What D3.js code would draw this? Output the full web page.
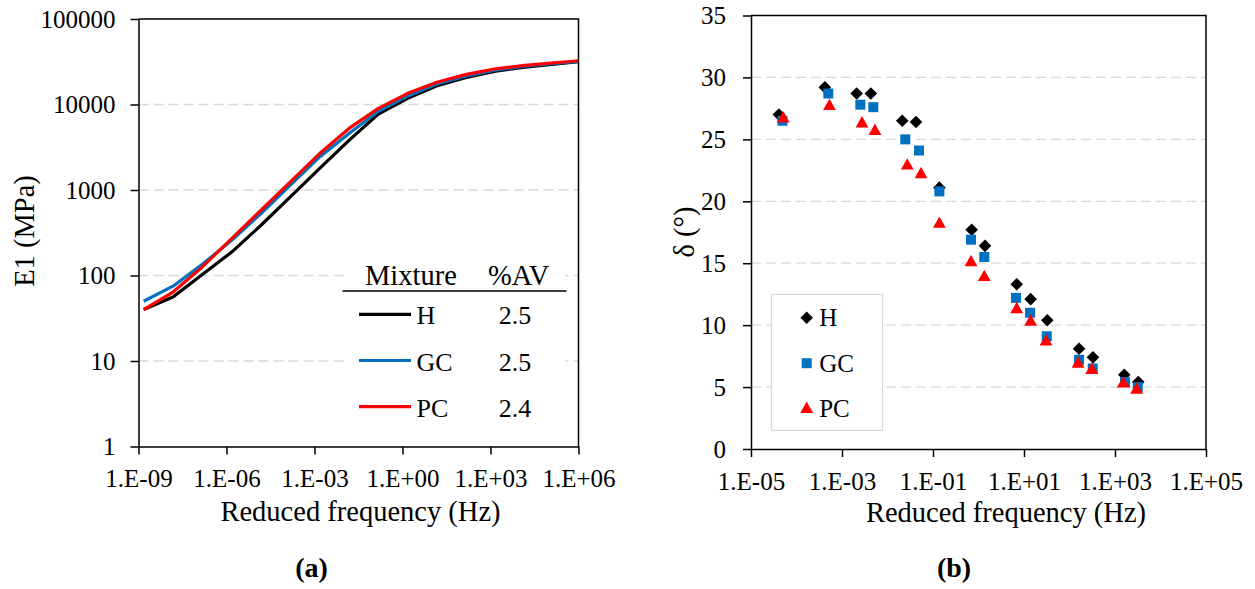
<!DOCTYPE html>
<html>
<head>
<meta charset="utf-8">
<script src="https://cdn.jsdelivr.net/npm/d3@7"></script>
<style>
  html, body { margin: 0; padding: 0; background: #fff; }
  svg { display: block; }
</style>
</head>
<body>
<svg id="chart" width="1255" height="589"></svg>
<script>
// ---- Panel (a): master curves of |E1| vs reduced frequency ----
const freqA = [1.5e-9, 1.5e-8, 1.5e-7, 1.5e-6, 1.5e-5, 1.5e-4, 1.5e-3, 1.5e-2,
               1.5e-1, 1.5, 15, 150, 1500, 15000, 150000, 1e6];
const e1H  = [40, 56, 103, 188, 387, 830, 1790, 3800, 7730, 11800, 16600, 20700, 24600, 27400, 29700, 31600];
const e1GC = [50, 75, 135, 258, 531, 1140, 2440, 4570, 8320, 12600, 17400, 21600, 25400, 28100, 30200, 32000];
const e1PC = [40, 64, 126, 270, 580, 1245, 2670, 5250, 9000, 13500, 18200, 22500, 26200, 28700, 30800, 32500];

const xTicksA = [1e-9, 1e-6, 1e-3, 1e0, 1e3, 1e6];
const xTickLabelsA = ["1.E-09", "1.E-06", "1.E-03", "1.E+00", "1.E+03", "1.E+06"];
const yTicksA = [1, 10, 100, 1000, 10000, 100000];
const yTickLabelsA = ["1", "10", "100", "1000", "10000", "100000"];

const mixtures = ["H", "GC", "PC"];
const airVoids = ["2.5", "2.5", "2.4"];

// ---- Panel (b): phase angle vs reduced frequency ----
const freqH  = [4.1e-5, 4.2e-4, 2.1e-3, 4.3e-3, 0.0211, 0.0423, 0.138, 0.708, 1.39, 6.92, 14.0, 32.5, 162, 328, 1600, 3250];
const deltaH = [27.0, 29.2, 28.7, 28.7, 26.5, 26.4, 21.1, 17.7, 16.4, 13.3, 12.1, 10.4, 8.1, 7.4, 6.0, 5.4];
const freqGC  = [4.9e-5, 5.0e-4, 2.53e-3, 4.88e-3, 0.0246, 0.0492, 0.138, 0.684, 1.34, 6.67, 13.6, 31.6, 162, 324, 1660, 3160];
const deltaGC = [26.5, 28.7, 27.8, 27.6, 25.0, 24.1, 20.8, 16.9, 15.5, 12.2, 11.0, 9.1, 7.2, 6.5, 5.4, 5.0];
const freqPC  = [5.1e-5, 5.3e-4, 2.75e-3, 5.3e-3, 0.0272, 0.0545, 0.138, 0.684, 1.34, 6.92, 14.0, 30.5, 154, 308, 1520, 3000];
const deltaPC = [26.7, 27.7, 26.3, 25.7, 22.9, 22.2, 18.2, 15.1, 13.9, 11.3, 10.3, 8.7, 6.9, 6.4, 5.3, 4.8];

const xTicksB = [1e-5, 1e-3, 1e-1, 1e1, 1e3, 1e5];
const xTickLabelsB = ["1.E-05", "1.E-03", "1.E-01", "1.E+01", "1.E+03", "1.E+05"];
const yTicksB = [0, 5, 10, 15, 20, 25, 30, 35];

const colors = { H: "#000000", GC: "#0070C0", PC: "#FF0000" };
const gridColor = "#d9d9d9";
const serif = '"Liberation Serif", "Times New Roman", serif';

const svg = d3.select("#chart");

// ================= Panel (a) =================
const A = { x0: 138.5, x1: 578.5, y0: 19, y1: 446.5 };
const xA = d3.scaleLog().domain([1e-9, 1e6]).range([A.x0, A.x1]);
const yA = d3.scaleLog().domain([1, 100000]).range([A.y1, A.y0]);

const gA = svg.append("g");

// horizontal dashed gridlines
gA.append("g").selectAll("line")
  .data(yTicksA.slice(1, -1))
  .join("line")
  .attr("x1", A.x0).attr("x2", A.x1)
  .attr("y1", d => yA(d)).attr("y2", d => yA(d))
  .attr("stroke", gridColor).attr("stroke-width", 1.3)
  .attr("stroke-dasharray", "10,5");

// curves
const seriesA = [
  { name: "H", values: e1H },
  { name: "GC", values: e1GC },
  { name: "PC", values: e1PC }
];
const lineA = d3.line().x(d => xA(d[0])).y(d => yA(d[1]));
gA.append("g").selectAll("path")
  .data(seriesA)
  .join("path")
  .attr("d", s => lineA(freqA.map((f, i) => [f, s.values[i]])))
  .attr("fill", "none")
  .attr("stroke", s => colors[s.name])
  .attr("stroke-width", 3.2)
  .attr("stroke-linejoin", "round");

// plot frame (top and right)
gA.append("path")
  .attr("d", `M${A.x0},${A.y0}H${A.x1}V${A.y1}`)
  .attr("fill", "none").attr("stroke", "#000").attr("stroke-width", 1.5);

// axes
gA.append("g").attr("transform", `translate(0,${A.y1})`)
  .call(d3.axisBottom(xA).tickValues(xTicksA)
    .tickFormat((d, i) => xTickLabelsA[i]).tickSize(8).tickSizeOuter(0).tickPadding(15));
gA.append("g").attr("transform", `translate(${A.x0},0)`)
  .call(d3.axisLeft(yA).tickValues(yTicksA)
    .tickFormat((d, i) => yTickLabelsA[i]).tickSize(8).tickSizeOuter(0).tickPadding(15));

// legend table
const legA = gA.append("g");
legA.append("rect").attr("x", 346).attr("y", 262).attr("width", 219).attr("height", 168).attr("fill", "#fff");
legA.append("text").attr("x", 365).attr("y", 285).attr("font-size", 28.5).text("Mixture");
legA.append("text").attr("x", 488).attr("y", 285).attr("font-size", 28.5).text("%AV");
legA.append("line").attr("x1", 342.5).attr("x2", 566.5).attr("y1", 291).attr("y2", 291)
  .attr("stroke", "#000").attr("stroke-width", 1.5);
const legRowsA = legA.selectAll("g.row")
  .data(mixtures)
  .join("g").attr("class", "row")
  .attr("transform", (d, i) => `translate(0,${314.3 + i * 46.2})`);
legRowsA.append("line").attr("x1", 359).attr("x2", 411).attr("y1", 0).attr("y2", 0)
  .attr("stroke", d => colors[d]).attr("stroke-width", 3.2);
legRowsA.append("text").attr("x", 416.5).attr("y", 10).attr("font-size", 26).text(d => d);
legRowsA.append("text").attr("x", 515).attr("y", 10).attr("font-size", 26)
  .attr("text-anchor", "middle").text((d, i) => airVoids[i]);

// titles
gA.append("text").attr("x", 360.5).attr("y", 520.5).attr("text-anchor", "middle")
  .attr("font-size", 28.5).text("Reduced frequency (Hz)");
gA.append("text").attr("transform", "translate(33.5,231) rotate(-90)").attr("text-anchor", "middle")
  .attr("font-size", 28.5).text("E1 (MPa)");
gA.append("text").attr("x", 311.5).attr("y", 577).attr("text-anchor", "middle")
  .attr("font-size", 28).attr("font-weight", "bold").text("(a)");

// ================= Panel (b) =================
const B = { x0: 751, x1: 1206, y0: 15.5, y1: 449 };
const xB = d3.scaleLog().domain([1e-5, 1e5]).range([B.x0, B.x1]);
const yB = d3.scaleLinear().domain([0, 35]).range([B.y1, B.y0]);

const gB = svg.append("g");

gB.append("g").selectAll("line")
  .data(yTicksB.slice(1, -1))
  .join("line")
  .attr("x1", B.x0).attr("x2", B.x1)
  .attr("y1", d => yB(d)).attr("y2", d => yB(d))
  .attr("stroke", gridColor).attr("stroke-width", 1.3)
  .attr("stroke-dasharray", "10,5");

// marker shapes
const diamondPath = "M0,-6.3L6.3,0L0,6.3L-6.3,0Z";
const squarePath = "M-5,-5H5V5H-5Z";
const trianglePath = "M0,-7.2L6.4,4.2H-6.4Z";
const markerPath = { H: diamondPath, GC: squarePath, PC: trianglePath };

const seriesB = [
  { name: "H", f: freqH, v: deltaH },
  { name: "GC", f: freqGC, v: deltaGC },
  { name: "PC", f: freqPC, v: deltaPC }
];
seriesB.forEach(s => {
  gB.append("g").selectAll("path")
    .data(s.f.map((f, i) => [f, s.v[i]]))
    .join("path")
    .attr("d", markerPath[s.name])
    .attr("transform", d => `translate(${xB(d[0])},${yB(d[1])})`)
    .attr("fill", colors[s.name]);
});

gB.append("path")
  .attr("d", `M${B.x0},${B.y0}H${B.x1}V${B.y1}`)
  .attr("fill", "none").attr("stroke", "#000").attr("stroke-width", 1.5);

gB.append("g").attr("transform", `translate(0,${B.y1})`)
  .call(d3.axisBottom(xB).tickValues(xTicksB)
    .tickFormat((d, i) => xTickLabelsB[i]).tickSize(8).tickSizeOuter(0).tickPadding(15));
gB.append("g").attr("transform", `translate(${B.x0},0)`)
  .call(d3.axisLeft(yB).tickValues(yTicksB).tickFormat(d3.format("d"))
    .tickSize(8).tickSizeOuter(0).tickPadding(17));

// legend
const legB = gB.append("g");
legB.append("rect").attr("x", 771.5).attr("y", 294.5).attr("width", 111).attr("height", 136)
  .attr("fill", "#fff").attr("stroke", gridColor).attr("stroke-width", 1.3);
const legRowsB = legB.selectAll("g.row")
  .data(mixtures)
  .join("g").attr("class", "row")
  .attr("transform", (d, i) => `translate(806.7,${317.7 + i * 45.5})`);
legRowsB.append("path").attr("d", d => markerPath[d]).attr("fill", d => colors[d]);
legRowsB.append("text").attr("x", 12.5).attr("y", 8.5).attr("font-size", 25).text(d => d);

gB.append("text").attr("x", 1006).attr("y", 522).attr("text-anchor", "middle")
  .attr("font-size", 28.5).text("Reduced frequency (Hz)");
gB.append("text").attr("transform", "translate(694,232) rotate(-90)").attr("text-anchor", "middle")
  .attr("font-size", 28.5).text("δ (°)");
gB.append("text").attr("x", 954).attr("y", 577).attr("text-anchor", "middle")
  .attr("font-size", 28).attr("font-weight", "bold").text("(b)");

// shared axis styling
svg.selectAll(".domain").attr("stroke", "#000").attr("stroke-width", 1.5);
svg.selectAll(".tick line").attr("stroke", "#000").attr("stroke-width", 1.5);
svg.selectAll(".tick text").attr("font-size", 25).attr("fill", "#000");
svg.selectAll("text").style("font-family", serif).attr("fill", "#000");
</script>
</body>
</html>
